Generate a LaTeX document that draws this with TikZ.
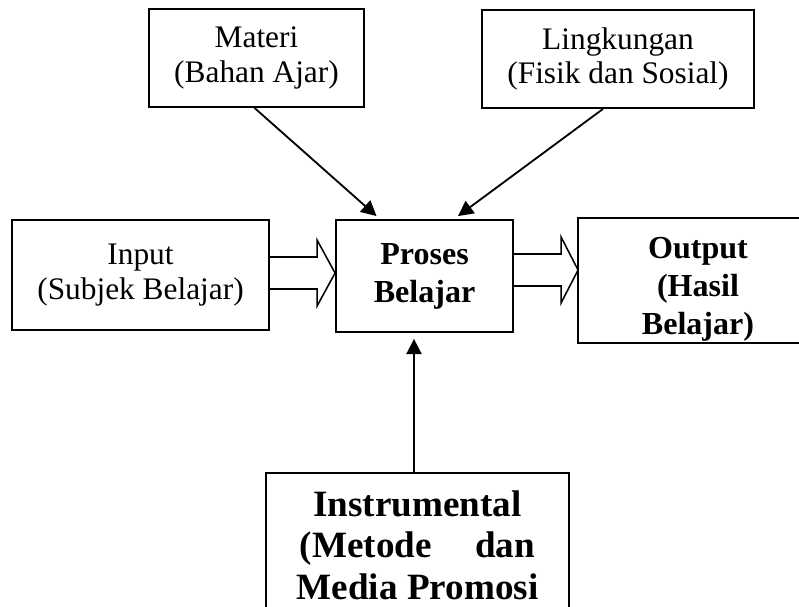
\documentclass[tikz,border=0pt]{standalone}
\usepackage{fontspec}
\setmainfont{Liberation Serif}
\usetikzlibrary{arrows.meta,calc,positioning}
\tikzstyle{box} = [draw, line width=1.3pt, inner sep=0pt, align=center, font=\fontsize{22.3}{24.5}\selectfont]
\tikzstyle{boldbox} = [box, font=\fontsize{22.8}{27}\selectfont\bfseries]
\tikzstyle{arrow} = [line width=1.3pt, -{Triangle[length=0.38cm,width=0.38cm]}]
\tikzstyle{hollow} = [line width=1.1pt, line join=miter]
\begin{document}
\begin{tikzpicture}[x=0.025cm, y=-0.025cm]
      \clip (0,0) rectangle (799,606);
      % boxes
      \node[box, minimum width=5.375cm, minimum height=2.45cm] (materi) at (256.5,58) {Materi\\(Bahan Ajar)};
      \node[box, minimum width=6.8cm, minimum height=2.45cm] (lingkungan) at (618,59) {Lingkungan\\(Fisik dan Sosial)};
      \node[box, minimum width=6.425cm, minimum height=2.75cm] (input) at (140.5,275) {Input\\(Subjek Belajar)};
      \node[boldbox, minimum width=4.425cm, minimum height=2.8cm] (proses) at (424.5,276) {Proses\\Belajar};
      \node[box, minimum width=6cm, minimum height=3.125cm] (output) at (698,280.5) {};
      \node[boldbox, draw=none, yshift=-0.22cm] (outtext) at (output.center) {Output\\(Hasil\\Belajar)};
      \node[boldbox, font=\fontsize{26.4}{29.4}\selectfont\bfseries, minimum width=7.575cm, minimum height=3.6cm] (instr) at (417.5,545)
            {Instrumental\\\makebox[5.875cm][s]{(Metode dan}\\Media Promosi};
      % arrows into proses
      \draw[arrow] ($(materi.south)+(-2,0)$) -- ($(proses.north)+(-48,-3)$);
      \draw[arrow] ($(lingkungan.south)+(-15,0)$) -- ($(proses.north)+(33.5,-3)$);
      \draw[arrow] ($(instr.north)+(-3.5,0)$) -- ($(proses.south)+(-10.5,6)$);
      % hollow arrows
      \coordinate (tip1) at ($(proses.west)+(0,-3)$);
      \coordinate (tip2) at ($(output.west)+(1,-10.5)$);
      \draw[hollow] ($(input.east |- tip1)+(0,-16)$) -- ($(tip1)+(-18,-16)$) -- ($(tip1)+(-18,-33)$)
            -- (tip1) -- ($(tip1)+(-18,33)$) -- ($(tip1)+(-18,16)$) -- ($(input.east |- tip1)+(0,16)$);
      \draw[hollow] ($(proses.east |- tip2)+(0,-16)$) -- ($(tip2)+(-17,-16)$) -- ($(tip2)+(-17,-33)$)
            -- (tip2) -- ($(tip2)+(-17,33)$) -- ($(tip2)+(-17,16)$) -- ($(proses.east |- tip2)+(0,16)$);
\end{tikzpicture}
\end{document}
